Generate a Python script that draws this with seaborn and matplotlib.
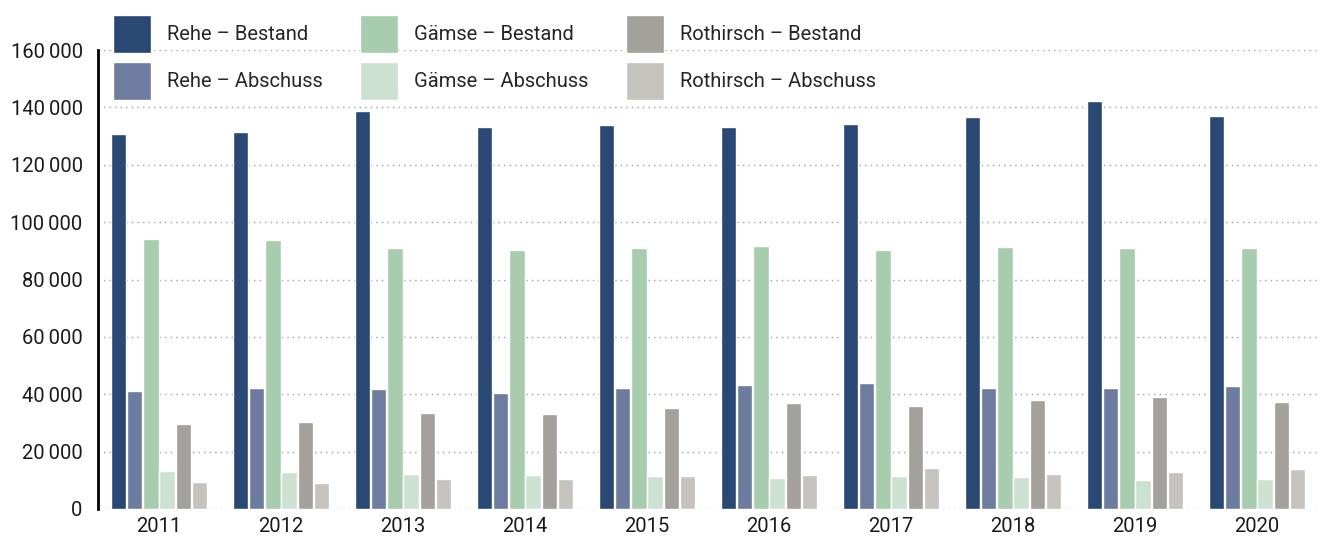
import matplotlib
matplotlib.use("Agg")
import matplotlib.pyplot as plt
import seaborn as sns
import pandas as pd

# ── Data ──────────────────────────────────────────────────
years = ["2011", "2012", "2013", "2014", "2015", "2016", "2017", "2018", "2019", "2020"]
rehe_bestand = [130800, 131500, 138800, 133200, 133900, 133200, 134300, 136700, 142300, 137000]
rehe_abschuss = [41200, 42300, 41900, 40500, 42300, 43300, 44000, 42300, 42300, 43000]
gaemse_bestand = [94200, 93800, 91100, 90400, 91100, 91700, 90400, 91400, 91100, 91100]
gaemse_abschuss = [13400, 13000, 12300, 12000, 11600, 10900, 11600, 11300, 10200, 10600]
rot_bestand = [29700, 30400, 33600, 33200, 35300, 37000, 36000, 38100, 39100, 37400]
rot_abschuss = [9500, 9200, 10600, 10600, 11600, 12000, 14400, 12300, 13000, 14000]

series = ["Rehe – Bestand", "Rehe – Abschuss", "Gämse – Bestand",
          "Gämse – Abschuss", "Rothirsch – Bestand", "Rothirsch – Abschuss"]
colors = ["#2a4874", "#6e7ca0", "#a8cdae", "#cde1d2", "#a4a09b", "#c6c3be"]
values = [rehe_bestand, rehe_abschuss, gaemse_bestand,
          gaemse_abschuss, rot_bestand, rot_abschuss]

df = pd.DataFrame([
    {"Jahr": y, "Serie": s, "Wert": v}
    for s, vals in zip(series, values)
    for y, v in zip(years, vals)
])

# ── Style ─────────────────────────────────────────────────
sns.set_theme(style="white")
plt.rcParams["font.family"] = ["Roboto", "DejaVu Sans"]

fig = plt.figure(figsize=(13.26, 5.37), dpi=100)
ax = fig.add_axes([98 / 1326, 1 - 509 / 537, 1220 / 1326, 459 / 537])

sns.barplot(data=df, x="Jahr", y="Wert", hue="Serie", hue_order=series,
            order=years, palette=dict(zip(series, colors)), width=0.8,
            gap=0.06, saturation=1, ax=ax)

ax.set_ylim(0, 160000)
ax.set_xlim(-0.5, 9.5)
ax.set_yticks(range(0, 160001, 20000))
ax.set_yticklabels([f"{v:,}".replace(",", "\u202f") for v in range(0, 160001, 20000)])
ax.set_xlabel("")
ax.set_ylabel("")
ax.tick_params(axis="both", length=0, labelsize=14.5, colors="#1a1a1a")
ax.tick_params(axis="y", pad=11)
ax.tick_params(axis="x", pad=6)

ax.yaxis.grid(True, ls=(0, (1, 3)), color="#a0a0a0", lw=1)
ax.set_axisbelow(True)
for side in ["top", "right", "bottom"]:
    ax.spines[side].set_visible(False)
ax.spines["left"].set_color("black")
ax.spines["left"].set_linewidth(2)

handles, labels = ax.get_legend_handles_labels()
ax.legend(handles, labels, ncol=3, frameon=False, fontsize=14.5,
          loc="upper left", bbox_to_anchor=(113 / 1326, 1 - 15 / 537),
          bbox_transform=fig.transFigure, borderpad=0, borderaxespad=0,
          handlelength=1.89, handleheight=2.53, handletextpad=0.8,
          columnspacing=1.85, labelspacing=0.45)

fig.savefig("out.png", dpi=100)
plt.close(fig)
